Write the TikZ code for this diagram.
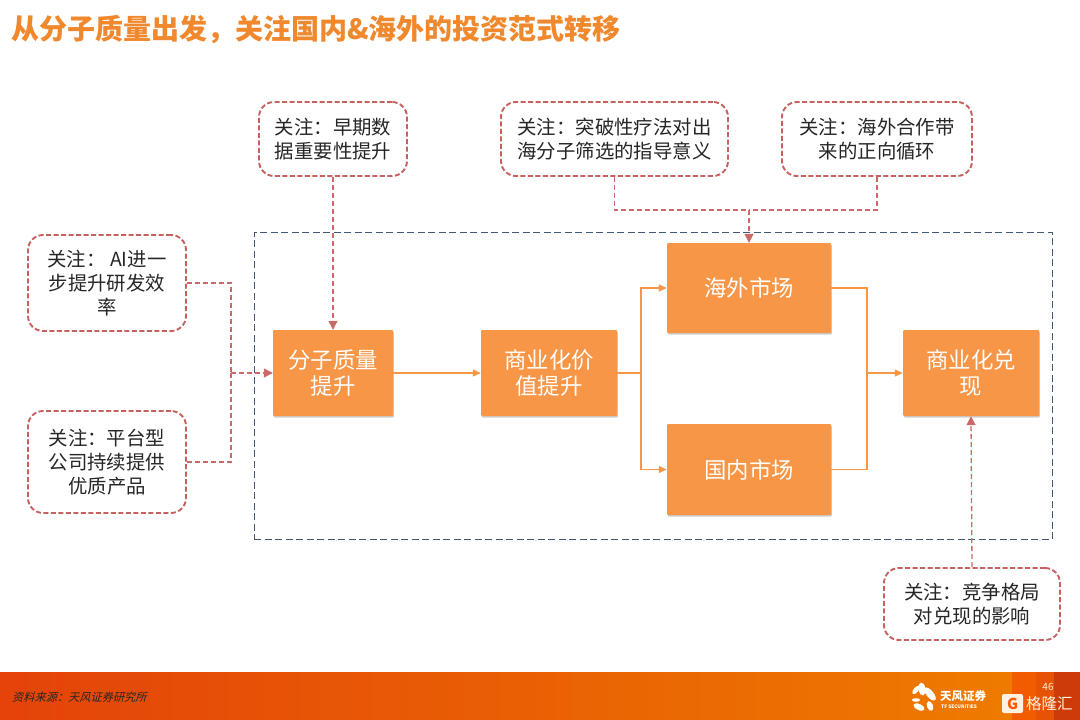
\documentclass[tikz,border=0pt]{standalone}
\usepackage{fontspec}
\setmainfont{Noto Sans CJK SC}
\newfontfamily\slantfont[FakeSlant=0.25]{Noto Sans CJK SC}
\usetikzlibrary{arrows.meta,shadows}
\definecolor{tforange}{HTML}{F79646}
\definecolor{tfred}{HTML}{C0504D}
\definecolor{tfnavy}{HTML}{1F3A5F}
\definecolor{tftitle}{HTML}{F0882D}
\definecolor{tfbandl}{HTML}{E44309}
\definecolor{tfbandr}{HTML}{EE7A00}
\tikzset{
    notebox/.style={draw=tfred!90!white, line width=1.9pt, dash pattern=on 5pt off 2.5pt, rounded corners=15pt,
        fill=white, align=center, inner sep=0pt, font=\fontsize{19.4}{24}\selectfont, text=black!85},
    valuebox/.style={fill=tforange, rounded corners=1pt, align=center, inner sep=0pt, text=white,
        font=\fontsize{22.4}{26}\selectfont, drop shadow={shadow xshift=0.8pt, shadow yshift=-1.5pt, opacity=0.4}},
    flowline/.style={draw=tforange, line width=1.2pt, -{Triangle[length=8pt,width=7pt]}},
    flowplain/.style={draw=tforange, line width=1.2pt},
    noteline/.style={draw=tfred!85!white, line width=1.3pt, dash pattern=on 5pt off 3pt},
    notearrow/.style={noteline, -{Triangle[length=9pt,width=9pt]}},
    petal/.style={fill=white},
}
\begin{document}
\begin{tikzpicture}[x=1pt,y=-1pt]
\useasboundingbox (0,0) rectangle (1080,720);

% footer band
\shade[left color=tfbandl, right color=tfbandr] (0,672) rectangle (1000,720);
\fill[tfbandr] (1000,672) rectangle (1012,720);
\fill[orange!75!red!95!black] (1012,672) rectangle (1036,720);
\fill[tfbandl!70!tfbandr] (1036,672) rectangle (1054,720);
\fill[tfbandl!90!black] (1054,672) rectangle (1080,720);

\node[anchor=west, inner sep=0pt, text=tftitle, font=\fontsize{28}{30}\selectfont\bfseries] (title) at (11,30)
    {从分子质量出发，关注国内\&海外的投资范式转移};

% dashed frame
\node[draw=tfnavy!85!white, line width=1pt, dash pattern=on 7pt off 3.5pt, minimum width=798pt, minimum height=307pt, inner sep=0pt]
    (frame) at (653,385.5) {};

% value chain
\node[valuebox, minimum width=120pt, minimum height=86pt] (quality) at (333,373) {分子质量\\提升};
\node[valuebox, minimum width=136pt, minimum height=86pt] (value) at (549,373) {商业化价\\值提升};
\node[valuebox, minimum width=164pt, minimum height=90pt] (overseas) at (749,288) {海外市场};
\node[valuebox, minimum width=164pt, minimum height=91pt] (domestic) at (749,469.5) {国内市场};
\node[valuebox, minimum width=136pt, minimum height=86pt] (cash) at (971,373) {商业化兑\\现};

% notes
\node[notebox, minimum width=148pt, minimum height=74pt] (noteearly) at (333,139) {关注：早期数\\据重要性提升};
\node[notebox, minimum width=227pt, minimum height=74pt] (notetherapy) at (614.5,139) {关注：突破性疗法对出\\海分子筛选的指导意义};
\node[notebox, minimum width=190pt, minimum height=74pt] (notedeal) at (877,139) {关注：海外合作带\\来的正向循环};
\node[notebox, minimum width=158pt, minimum height=96pt] (noteai) at (107,283) {关注： AI进一\\步提升研发效\\率};
\node[notebox, minimum width=158pt, minimum height=102pt] (noteplat) at (107,462) {关注：平台型\\公司持续提供\\优质产品};
\node[notebox, minimum width=176pt, minimum height=72pt] (notecomp) at (972,604) {关注：竞争格局\\对兑现的影响};

% orange connectors
\coordinate (split) at (641,373);
\coordinate (merge) at (867,373);
\draw[flowline] (quality.east) -- (value.west);
\draw[flowplain] (value.east) -- (split);
\draw[flowline] (split) |- (overseas.west);
\draw[flowline] (split) |- (domestic.west);
\draw[flowplain] (overseas.east) -| (merge);
\draw[flowplain] (domestic.east) -| (merge);
\draw[flowline] (merge) -- (cash.west);

% red connectors
\coordinate (joinleft) at (231,373);
\coordinate (jointop) at (749,210);
\draw[notearrow] (noteearly.south) -- (quality.north);
\draw[noteline] (noteai.east) -| (joinleft);
\draw[noteline] (noteplat.east) -| (joinleft);
\draw[notearrow] (joinleft) -- (quality.west);
\draw[noteline] (notetherapy.south) |- (jointop);
\draw[noteline] (notedeal.south) |- (jointop);
\draw[notearrow] (jointop) -- (overseas.north);
\draw[notearrow] (notecomp.north) -- (cash.south);

% footer text and marks
\node[anchor=west, inner sep=0pt, text=black!85, font=\fontsize{11.2}{13}\selectfont\slantfont] (source) at (12,697)
    {资料来源：天风证券研究所};
\fill[petal, rotate around={10:(922,689)}] (922,689) ellipse (3.5pt and 6.5pt);
\fill[petal, rotate around={-40:(916,690)}] (916,690) ellipse (2.5pt and 5pt);
\fill[petal, rotate around={40:(930,694)}] (930,694) ellipse (3.5pt and 8pt);
\fill[petal] (916,700) ellipse (4pt and 1.8pt);
\fill[petal, rotate around={-25:(919,707)}] (919,707) ellipse (6pt and 3pt);
\fill[petal, rotate around={20:(930,706)}] (930,706) ellipse (3pt and 5pt);
\node[anchor=west, inner sep=0pt, text=white, font=\fontsize{11.5}{13}\selectfont\bfseries] (tfname) at (940,696) {天风证券};
\node[anchor=west, inner sep=0pt, text=white, font=\fontsize{4.8}{5}\selectfont\bfseries] (tfsub) at (941,706.5) {TF SECURITIES};
\node[inner sep=0pt, text=white!85!orange, font=\fontsize{10}{11}\selectfont] (pagenum) at (1048,687) {46};
\node[fill=white!88!orange, rounded corners=2pt, minimum width=21pt, minimum height=19pt, inner sep=0pt, text=orange!70!red,
    font=\fontsize{15}{16}\selectfont\bfseries] (gmark) at (1012.5,703.5) {G};
\node[anchor=west, inner sep=0pt, text=white!88!orange, font=\fontsize{15.5}{17}\selectfont] (glh) at (1026,703.5) {格隆汇};
\end{tikzpicture}
\end{document}
